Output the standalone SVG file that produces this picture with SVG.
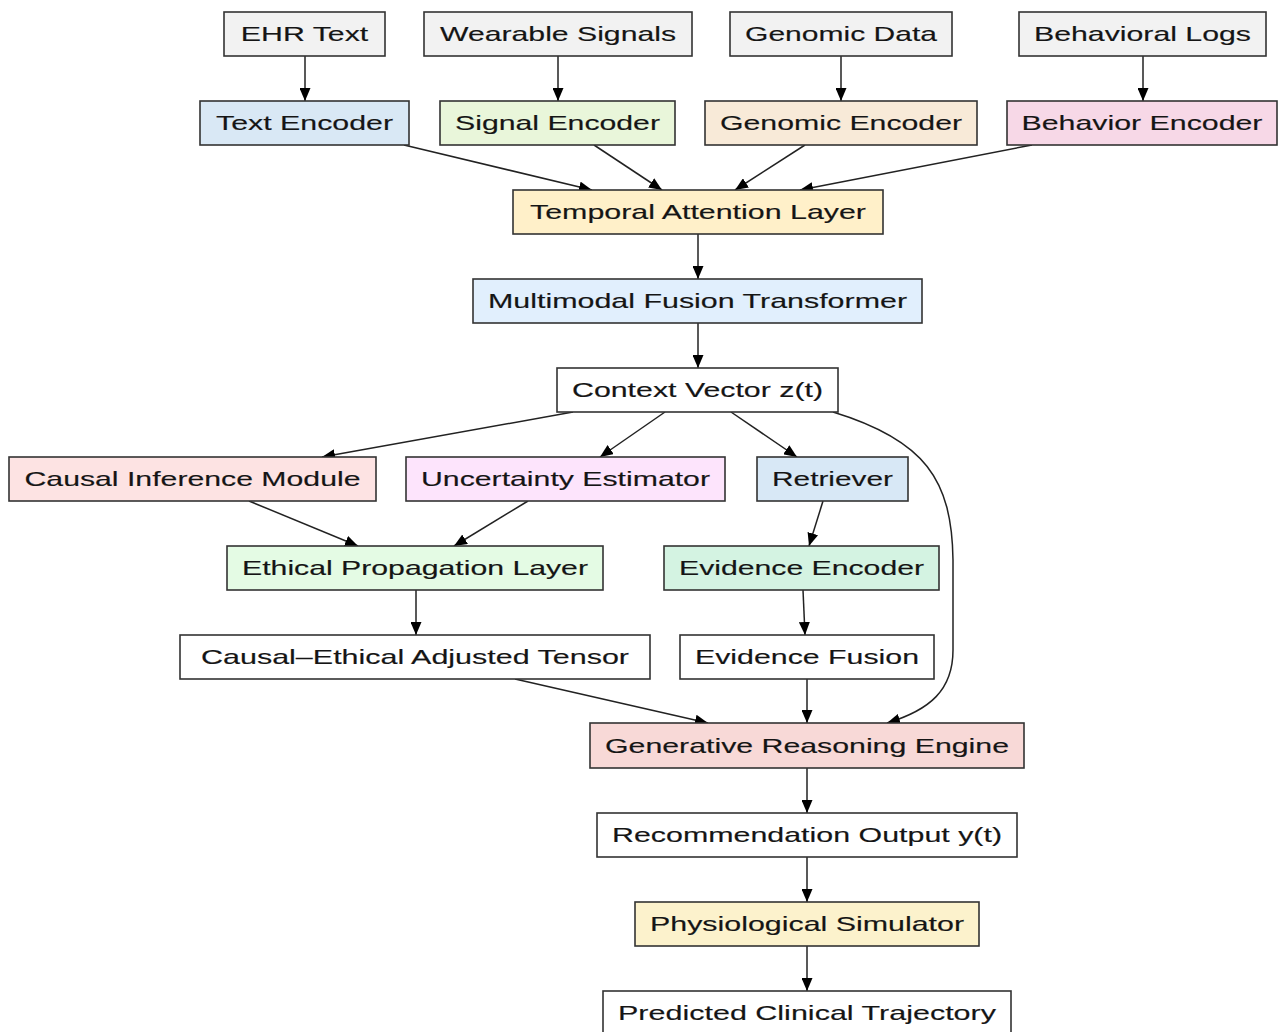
<svg xmlns="http://www.w3.org/2000/svg" width="1279" height="1032" viewBox="0 0 1279 1032">
<defs>
<style>
.n rect{stroke:#333;stroke-width:1.6}
.n text{font-family:"Liberation Sans",Arial,sans-serif;font-size:21px;fill:#151515;stroke:#151515;stroke-width:0.15;text-anchor:middle}
.e path,.e line{stroke:#222;stroke-width:1.5;fill:none;marker-end:url(#ah)}
</style>
<marker id="ah" markerUnits="userSpaceOnUse" markerWidth="13" markerHeight="11" refX="13" refY="5.5" orient="auto">
<path d="M0,0 L13,5.5 L0,11 z" fill="#000"/>
</marker>
</defs>
<rect width="1279" height="1032" fill="#fff"/>
<g id="edges" class="e">
<line x1="305" y1="56" x2="305" y2="101"/>
<line x1="558" y1="56" x2="558" y2="101"/>
<line x1="841" y1="56" x2="841" y2="101"/>
<line x1="1143" y1="56" x2="1143" y2="101"/>
<line x1="404" y1="145" x2="592" y2="190"/>
<line x1="594" y1="145" x2="662" y2="190"/>
<line x1="805" y1="145" x2="735" y2="190"/>
<line x1="1032" y1="145" x2="800" y2="190"/>
<line x1="698" y1="234" x2="698" y2="279"/>
<line x1="698" y1="323" x2="698" y2="368"/>
<line x1="573" y1="412" x2="322" y2="457"/>
<line x1="665" y1="412" x2="600" y2="457"/>
<line x1="731" y1="412" x2="797" y2="457"/>
<path d="M833,412 C925,440 952,480 953,560 L953,650 C953,690 930,710 887,723"/>
<line x1="249" y1="501" x2="358" y2="546"/>
<line x1="528" y1="501" x2="454" y2="546"/>
<line x1="823" y1="501" x2="809" y2="546"/>
<line x1="416" y1="590" x2="416" y2="635"/>
<line x1="803" y1="590" x2="805" y2="635"/>
<line x1="515" y1="679" x2="708" y2="723"/>
<line x1="807" y1="679" x2="807" y2="723"/>
<line x1="807" y1="768" x2="807" y2="813"/>
<line x1="807" y1="857" x2="807" y2="902"/>
<line x1="807" y1="946" x2="807" y2="991"/>
</g>
<g id="ehr" class="n"><rect x="224" y="12" width="161" height="44" fill="#f2f2f2"/><text transform="matrix(1.4 0 0 1 304.5 41)" textLength="91" lengthAdjust="spacingAndGlyphs">EHR Text</text></g>
<g id="wearable" class="n"><rect x="424" y="12" width="268" height="44" fill="#f2f2f2"/><text transform="matrix(1.4 0 0 1 558 41)" textLength="168.6" lengthAdjust="spacingAndGlyphs">Wearable Signals</text></g>
<g id="genomic" class="n"><rect x="730" y="12" width="222" height="44" fill="#f2f2f2"/><text transform="matrix(1.4 0 0 1 841 41)" textLength="137.1" lengthAdjust="spacingAndGlyphs">Genomic Data</text></g>
<g id="behavioral" class="n"><rect x="1019" y="12" width="247" height="44" fill="#f2f2f2"/><text transform="matrix(1.4 0 0 1 1142.5 41)" textLength="155" lengthAdjust="spacingAndGlyphs">Behavioral Logs</text></g>
<g id="textenc" class="n"><rect x="200" y="101" width="209" height="44" fill="#d9e8f5"/><text transform="matrix(1.4 0 0 1 304.5 130)" textLength="126.4" lengthAdjust="spacingAndGlyphs">Text Encoder</text></g>
<g id="sigenc" class="n"><rect x="440" y="101" width="235" height="44" fill="#e9f6da"/><text transform="matrix(1.4 0 0 1 557.5 130)" textLength="146.4" lengthAdjust="spacingAndGlyphs">Signal Encoder</text></g>
<g id="genenc" class="n"><rect x="705" y="101" width="272" height="44" fill="#f8ead8"/><text transform="matrix(1.4 0 0 1 841 130)" textLength="172.9" lengthAdjust="spacingAndGlyphs">Genomic Encoder</text></g>
<g id="behenc" class="n"><rect x="1007" y="101" width="270" height="44" fill="#f7d8e7"/><text transform="matrix(1.4 0 0 1 1142 130)" textLength="172.1" lengthAdjust="spacingAndGlyphs">Behavior Encoder</text></g>
<g id="temporal" class="n"><rect x="513" y="190" width="370" height="44" fill="#fff0c9"/><text transform="matrix(1.4 0 0 1 698 219)" textLength="240" lengthAdjust="spacingAndGlyphs">Temporal Attention Layer</text></g>
<g id="fusion" class="n"><rect x="473" y="279" width="449" height="44" fill="#e1effd"/><text transform="matrix(1.4 0 0 1 697.5 308)" textLength="299.3" lengthAdjust="spacingAndGlyphs">Multimodal Fusion Transformer</text></g>
<g id="context" class="n"><rect x="557" y="368" width="281" height="44" fill="#fff"/><text transform="matrix(1.4 0 0 1 697.5 397)" textLength="179.3" lengthAdjust="spacingAndGlyphs">Context Vector z(t)</text></g>
<g id="causal" class="n"><rect x="9" y="457" width="367" height="44" fill="#fde3e3"/><text transform="matrix(1.4 0 0 1 192.5 486)" textLength="240" lengthAdjust="spacingAndGlyphs">Causal Inference Module</text></g>
<g id="uncert" class="n"><rect x="406" y="457" width="319" height="44" fill="#fde4fc"/><text transform="matrix(1.4 0 0 1 565.5 486)" textLength="206.4" lengthAdjust="spacingAndGlyphs">Uncertainty Estimator</text></g>
<g id="retriever" class="n"><rect x="757" y="457" width="151" height="44" fill="#d8e8f6"/><text transform="matrix(1.4 0 0 1 832.5 486)" textLength="86.4" lengthAdjust="spacingAndGlyphs">Retriever</text></g>
<g id="ethical" class="n"><rect x="227" y="546" width="376" height="44" fill="#e4fbe4"/><text transform="matrix(1.4 0 0 1 415 575)" textLength="247.1" lengthAdjust="spacingAndGlyphs">Ethical Propagation Layer</text></g>
<g id="evenc" class="n"><rect x="664" y="546" width="275" height="44" fill="#d4f3e2"/><text transform="matrix(1.4 0 0 1 801.5 575)" textLength="175" lengthAdjust="spacingAndGlyphs">Evidence Encoder</text></g>
<g id="tensor" class="n"><rect x="180" y="635" width="470" height="44" fill="#fff"/><text transform="matrix(1.4 0 0 1 415 664)" textLength="305.7" lengthAdjust="spacingAndGlyphs">Causal–Ethical Adjusted Tensor</text></g>
<g id="evfusion" class="n"><rect x="680" y="635" width="254" height="44" fill="#fff"/><text transform="matrix(1.4 0 0 1 807 664)" textLength="160" lengthAdjust="spacingAndGlyphs">Evidence Fusion</text></g>
<g id="generative" class="n"><rect x="590" y="723" width="434" height="45" fill="#f8d9d7"/><text transform="matrix(1.4 0 0 1 807 753)" textLength="288.6" lengthAdjust="spacingAndGlyphs">Generative Reasoning Engine</text></g>
<g id="recommend" class="n"><rect x="597" y="813" width="420" height="44" fill="#fff"/><text transform="matrix(1.4 0 0 1 807 842)" textLength="278.6" lengthAdjust="spacingAndGlyphs">Recommendation Output y(t)</text></g>
<g id="physio" class="n"><rect x="635" y="902" width="344" height="44" fill="#fcf2cc"/><text transform="matrix(1.4 0 0 1 807 931)" textLength="224.3" lengthAdjust="spacingAndGlyphs">Physiological Simulator</text></g>
<g id="predicted" class="n"><rect x="603" y="991" width="408" height="46" fill="#fff"/><text transform="matrix(1.4 0 0 1 807 1020)" textLength="270" lengthAdjust="spacingAndGlyphs">Predicted Clinical Trajectory</text></g>
</svg>
